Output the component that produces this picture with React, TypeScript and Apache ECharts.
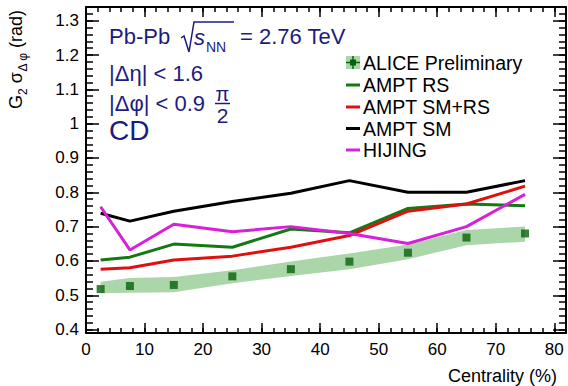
import React, { useEffect, useRef } from "react";
import * as echarts from "echarts";

// ---------------- data ----------------
const xCenters = [2.5, 7.5, 15, 25, 35, 45, 55, 65, 75];
const aliceValues = [0.518, 0.527, 0.53, 0.555, 0.576, 0.598, 0.624, 0.668, 0.68];
const aliceSysLow = [0.506, 0.507, 0.509, 0.535, 0.556, 0.576, 0.605, 0.646, 0.656];
const aliceSysHigh = [0.539, 0.55, 0.553, 0.573, 0.598, 0.622, 0.648, 0.69, 0.7];
const amptRS = [0.603, 0.611, 0.649, 0.64, 0.693, 0.682, 0.753, 0.766, 0.761];
const amptSMRS = [0.576, 0.58, 0.603, 0.614, 0.64, 0.674, 0.745, 0.766, 0.818];
const amptSM = [0.739, 0.716, 0.745, 0.773, 0.797, 0.834, 0.8, 0.8, 0.834];
const hijing = [0.758, 0.632, 0.707, 0.685, 0.7, 0.68, 0.651, 0.7, 0.794];

const xMajorTicks = [0, 10, 20, 30, 40, 50, 60, 70, 80];
const yMajorTicks = [0.4, 0.5, 0.6, 0.7, 0.8, 0.9, 1, 1.1, 1.2, 1.3];
const X_MIN = 0;
const X_MAX = 82;
const Y_MIN = 0.39;
const Y_MAX = 1.34;

const xMinorTicks: number[] = [];
for (let v = 0; v <= 82; v += 2) xMinorTicks.push(v);
const yMinorTicks: number[] = [];
for (let k = 20; k <= 67; k++) yMinorTicks.push(Math.round(k * 2) / 100);

const legendNames = ["ALICE Preliminary", "AMPT RS", "AMPT SM+RS", "AMPT SM", "HIJING"];

// ---------------- style ----------------
const FONT = '"Liberation Sans", Arial, Helvetica, sans-serif';
const NAVY = "#1c1c80";
const BAND = "#aad6aa";
const PT = "#0a600a";
const C_RS = "#127a12";
const C_SMRS = "#e01010";
const C_SM = "#000000";
const C_HIJ = "#d820d8";

function xAxisDef(position: "bottom" | "top", major: boolean, labels: boolean) {
  return {
    type: "value",
    position,
    min: X_MIN,
    max: X_MAX,
    splitLine: { show: false },
    axisLine: { show: major, onZero: false, lineStyle: { color: "#000", width: 2 } },
    axisTick: {
      show: true,
      inside: true,
      length: major ? 10 : 5,
      lineStyle: { color: "#000", width: 1.5 },
      customValues: major ? xMajorTicks : xMinorTicks,
    },
    axisLabel: {
      show: labels,
      customValues: xMajorTicks,
      color: "#000",
      fontSize: 17,
      fontFamily: FONT,
      margin: 8,
    },
  };
}

function yAxisDef(position: "left" | "right", major: boolean, labels: boolean) {
  return {
    type: "value",
    position,
    min: Y_MIN,
    max: Y_MAX,
    splitLine: { show: false },
    axisLine: { show: major, onZero: false, lineStyle: { color: "#000", width: 2 } },
    axisTick: {
      show: true,
      inside: true,
      length: major ? 13 : 7,
      lineStyle: { color: "#000", width: 1.5 },
      customValues: major ? yMajorTicks : yMinorTicks,
    },
    axisLabel: {
      show: labels,
      customValues: yMajorTicks,
      color: "#000",
      fontSize: 17,
      fontFamily: FONT,
      margin: 7,
      formatter: (v: number) => String(Math.round(v * 10) / 10),
    },
  };
}

function lineSeries(name: string, values: number[], color: string) {
  return {
    name,
    type: "line",
    xAxisIndex: 0,
    yAxisIndex: 0,
    data: xCenters.map((x, i) => [x, values[i]]),
    showSymbol: false,
    symbol: "none",
    lineStyle: { color, width: 3 },
    itemStyle: { color },
    z: 4,
    silent: true,
  };
}

function txt(text: string, x: number, y: number, size: number, opts: any = {}) {
  return {
    type: "text",
    x,
    y,
    z: 100,
    style: {
      text,
      fill: opts.fill || NAVY,
      fontSize: size,
      fontFamily: FONT,
      fontStyle: opts.italic ? "italic" : "normal",
      align: opts.align || "left",
      verticalAlign: "middle",
      textAlign: opts.align || "left",
      textVerticalAlign: "middle",
    },
  };
}

export default function App() {
  const ref = useRef<HTMLDivElement>(null);

  useEffect(() => {
    document.body.style.margin = "0";
    if (!ref.current) return;
    const chart = echarts.init(ref.current, undefined, { renderer: "svg" });

    const legendRowY = [63, 85, 107, 128.5, 150];
    const legendColors = [PT, C_RS, C_SMRS, C_SM, C_HIJ];
    const legendGraphics: any[] = [];
    legendNames.forEach((name, i) => {
      const y = legendRowY[i];
      if (i === 0) {
        legendGraphics.push({ type: "rect", shape: { x: 346, y: y - 7, width: 14, height: 13 }, style: { fill: BAND }, z: 100 });
        legendGraphics.push({ type: "line", shape: { x1: 346, y1: y - 0.5, x2: 360, y2: y - 0.5 }, style: { stroke: PT, lineWidth: 1.5 }, z: 101 });
        legendGraphics.push({ type: "line", shape: { x1: 353, y1: y - 7, x2: 353, y2: y + 6 }, style: { stroke: PT, lineWidth: 1.5 }, z: 101 });
        legendGraphics.push({ type: "rect", shape: { x: 350, y: y - 3.5, width: 6, height: 6 }, style: { fill: PT }, z: 102 });
      } else {
        legendGraphics.push({ type: "line", shape: { x1: 346, y1: y, x2: 360, y2: y }, style: { stroke: legendColors[i], lineWidth: 3 }, z: 100 });
      }
      legendGraphics.push(txt(name, 363, y, 19.5, { fill: "#000" }));
    });

    const option: any = {
      animation: false,
      backgroundColor: "#fff",
      grid: { left: 86, right: 2, top: 7, bottom: 53, containLabel: false, outerBoundsMode: "none" },
      xAxis: [
        xAxisDef("bottom", true, true),
        xAxisDef("bottom", false, false),
        xAxisDef("top", true, false),
        xAxisDef("top", false, false),
      ],
      yAxis: [
        yAxisDef("left", true, true),
        yAxisDef("left", false, false),
        yAxisDef("right", true, false),
        yAxisDef("right", false, false),
      ],
      series: [
        {
          name: "ALICE sys",
          type: "custom",
          xAxisIndex: 0,
          yAxisIndex: 0,
          data: [[xCenters[0], aliceValues[0]]],
          silent: true,
          z: 1,
          renderItem: (_params: any, api: any) => {
            const pts: number[][] = [];
            xCenters.forEach((x, i) => pts.push(api.coord([x, aliceSysHigh[i]])));
            for (let i = xCenters.length - 1; i >= 0; i--) pts.push(api.coord([xCenters[i], aliceSysLow[i]]));
            return { type: "polygon", shape: { points: pts }, style: { fill: BAND } };
          },
        },
        lineSeries("AMPT RS", amptRS, C_RS),
        lineSeries("AMPT SM+RS", amptSMRS, C_SMRS),
        lineSeries("AMPT SM", amptSM, C_SM),
        lineSeries("HIJING", hijing, C_HIJ),
        {
          name: "ALICE Preliminary",
          type: "scatter",
          xAxisIndex: 0,
          yAxisIndex: 0,
          data: xCenters.map((x, i) => [x, aliceValues[i]]),
          symbol: "rect",
          symbolSize: 8,
          itemStyle: { color: PT },
          z: 5,
          silent: true,
        },
      ],
      graphic: [
        // header text
        txt("Pb-Pb", 109, 36, 22),
        {
          type: "polyline",
          z: 100,
          shape: { points: [[181, 38], [184, 36], [189, 52], [194, 22], [234, 22]] },
          style: { stroke: NAVY, lineWidth: 1.5, fill: "none" },
        },
        txt("s", 194, 37, 22, { italic: true }),
        txt("NN", 206, 47, 14),
        txt("= 2.76 TeV", 240, 36, 22),
        txt("|Δη| < 1.6", 109, 73, 22),
        txt("|Δφ| < 0.9", 109, 103, 22),
        txt("π", 222.5, 94, 20, { align: "center" }),
        { type: "line", z: 100, shape: { x1: 215, y1: 103.5, x2: 230, y2: 103.5 }, style: { stroke: NAVY, lineWidth: 1.5 } },
        txt("2", 222.5, 115, 21, { align: "center" }),
        txt("CD", 109, 130, 28),
        ...legendGraphics,
        // axis titles
        txt("Centrality (%)", 557, 376, 18, { fill: "#000", align: "right" }),
        {
          type: "text",
          x: 16,
          y: 10,
          rotation: Math.PI / 2,
          z: 100,
          style: {
            text: "{m|G}{s|2}{m| σ}{s|Δ φ}{m| (rad)}",
            align: "right",
            verticalAlign: "middle",
            textAlign: "right",
            textVerticalAlign: "middle",
            fill: "#000",
            fontFamily: FONT,
            fontSize: 18,
            rich: {
              m: { fontSize: 18, fontFamily: FONT, fill: "#000", color: "#000", lineHeight: 26, verticalAlign: "middle" },
              s: { fontSize: 12, fontFamily: FONT, fill: "#000", color: "#000", lineHeight: 12, verticalAlign: "bottom" },
            },
          },
        },
      ],
    };

    chart.setOption(option);
    return () => chart.dispose();
  }, []);

  return <div ref={ref} style={{ width: 568, height: 386 }} />;
}
